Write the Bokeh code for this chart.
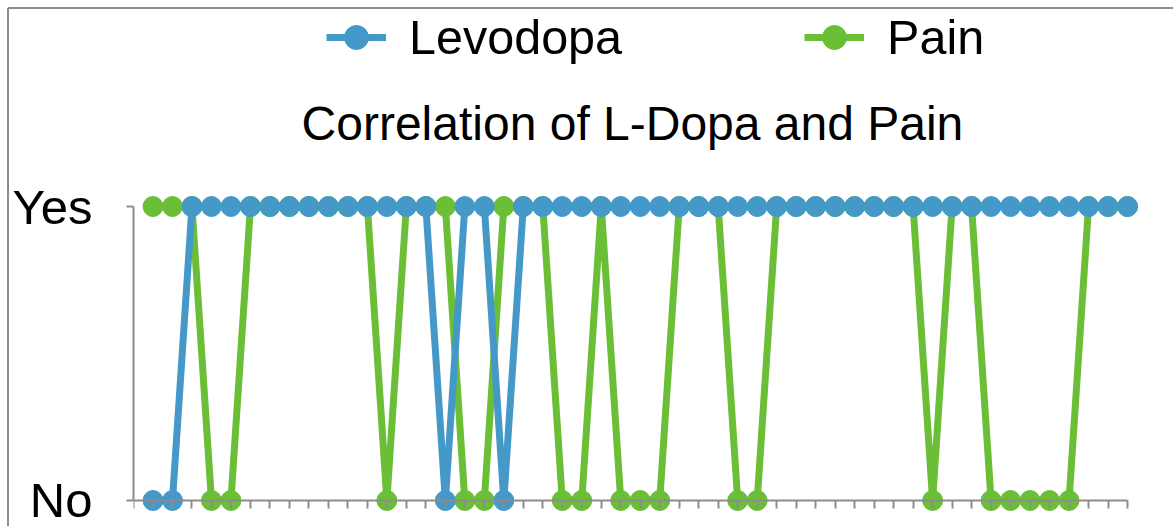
from bokeh.plotting import figure
from bokeh.models import (FixedTicker, LinearAxis, Legend, LegendItem, Range1d,
                          ColumnDataSource, CustomJSTickFormatter, Label)
from bokeh.embed import file_html
from bokeh.resources import INLINE

# Observation number for each patient record
patient = list(range(1, 52))

# Answers per record
levodopa = ["No", "No"] + ["Yes"] * 13 + ["No", "Yes", "Yes", "No"] + ["Yes"] * 32
pain = (["Yes", "Yes", "Yes", "No", "No", "Yes", "Yes", "Yes", "Yes", "Yes", "Yes", "Yes",
         "No", "Yes", "Yes", "Yes", "No", "No", "Yes", "Yes", "Yes", "No", "No", "Yes",
         "No", "No", "No", "Yes", "Yes", "Yes", "No", "No", "Yes", "Yes", "Yes", "Yes",
         "Yes", "Yes", "Yes", "Yes", "No", "Yes", "Yes", "No", "No", "No", "No", "No",
         "Yes", "Yes", "Yes"])

answer_levels = {"No": 0, "Yes": 1}
tick_labels = {0: "No", 1: "Yes"}
chart_title = "Correlation of L-Dopa and Pain"

BLUE = "#4599C9"
GREEN = "#6BBF36"
AXIS = "#8C8C8C"
FONT = "Liberation Sans"

src = ColumnDataSource(dict(
    patient=patient,
    levodopa=[answer_levels[a] for a in levodopa],
    pain=[answer_levels[a] for a in pain],
))

# Chart-area outline (left and top edges) painted behind transparent fills
outline_css = ("linear-gradient(#8C8C8C, #8C8C8C) 8px 7px / 100% 2px no-repeat, "
               "linear-gradient(#8C8C8C, #8C8C8C) 7px 8px / 2px 100% no-repeat, white")

# The plotting frame spans the full height so the legend and heading sit inside it;
# the axes are limited to the No..Yes band by their bounds.
p = figure(width=1173, height=526, output_backend="svg", toolbar_location=None,
           x_axis_location=None, y_axis_location=None,
           x_range=Range1d(0, 52.18), y_range=Range1d(-0.0612, 1.7007),
           min_border_left=133, min_border_right=23, min_border_top=0,
           min_border_bottom=8, styles={"background": outline_css})
p.background_fill_color = None
p.border_fill_color = None
p.outline_line_color = None
p.xgrid.visible = False
p.ygrid.visible = False

# Axes
yaxis = LinearAxis(ticker=FixedTicker(ticks=[0, 1]), bounds=(0, 1),
                   major_label_overrides=tick_labels)
yaxis.axis_line_color = AXIS
yaxis.axis_line_width = 2
yaxis.major_tick_line_color = AXIS
yaxis.major_tick_line_width = 2
yaxis.major_tick_in = 0
yaxis.major_tick_out = 7
yaxis.minor_tick_line_color = None
yaxis.major_label_standoff = 34
yaxis.major_label_text_font = FONT
yaxis.major_label_text_font_size = "49px"
yaxis.major_label_text_color = "black"
p.add_layout(yaxis, "left")

xaxis = LinearAxis(ticker=FixedTicker(ticks=[0] + patient), bounds=(0, patient[-1]),
                   fixed_location=0, formatter=CustomJSTickFormatter(code="return ''"))
xaxis.axis_line_color = AXIS
xaxis.axis_line_width = 2
xaxis.major_tick_line_color = AXIS
xaxis.major_tick_line_width = 2
xaxis.major_tick_in = 0
xaxis.major_tick_out = 8
xaxis.minor_tick_line_color = None
xaxis.major_label_standoff = 0
p.add_layout(xaxis, "below")

# Series: pain underneath, levodopa on top
pl = p.line("patient", "pain", source=src, line_color=GREEN, line_width=7)
ps = p.scatter("patient", "pain", source=src, size=20, fill_color=GREEN,
               line_color=GREEN)
ll = p.line("patient", "levodopa", source=src, line_color=BLUE, line_width=7)
ls = p.scatter("patient", "levodopa", source=src, size=20, fill_color=BLUE,
               line_color=BLUE)

# Heading
p.add_layout(Label(x=25.6, y=1.282, text=chart_title, text_align="center",
                   text_baseline="middle", text_font=FONT, text_font_size="48px",
                   text_color="black"))

legend = Legend(items=[LegendItem(label="Levodopa", renderers=[ll, ls]),
                       LegendItem(label="Pain", renderers=[pl, ps])],
                orientation="horizontal", location=(193, 451),
                label_text_font=FONT, label_text_font_size="48.5px",
                label_text_color="black",
                glyph_width=60, glyph_height=60, label_standoff=23,
                spacing=182, padding=0, margin=0,
                border_line_color=None, background_fill_alpha=0)
p.add_layout(legend)

open("out.html", "w").write(file_html(p, INLINE))
